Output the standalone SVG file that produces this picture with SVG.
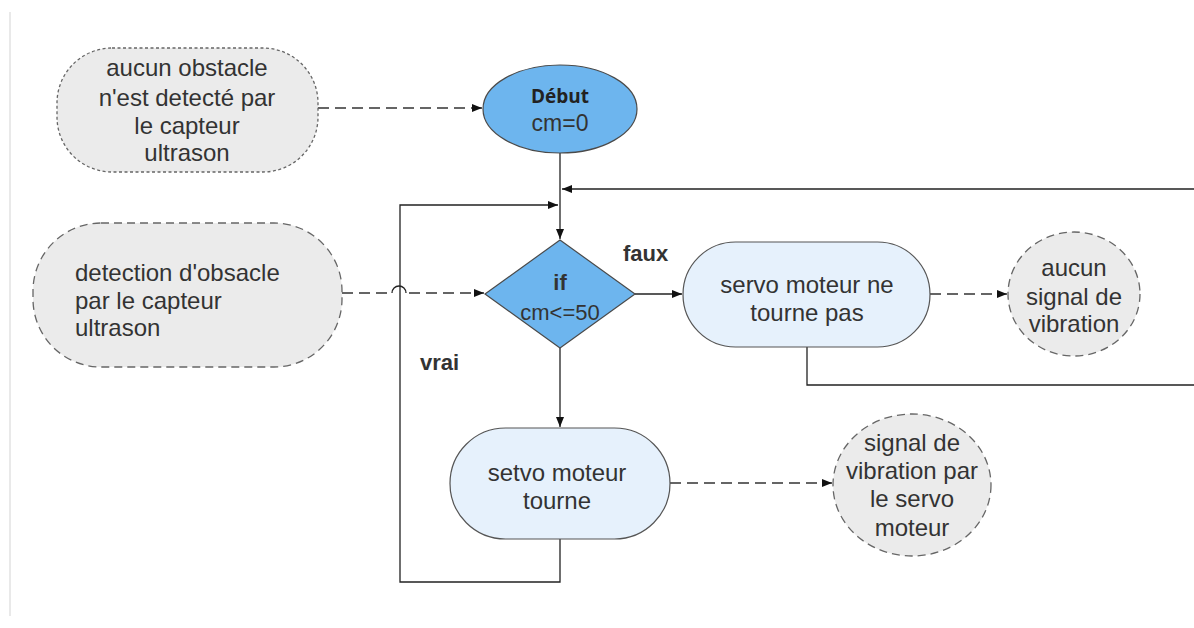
<svg xmlns="http://www.w3.org/2000/svg" width="1194" height="628" viewBox="0 0 1194 628">
  <style>
    .t { font-family: "Liberation Sans", Arial, sans-serif; font-size: 24px; fill: #333; }
    .c { text-anchor: middle; }
    .b { font-weight: bold; }
    .start { fill: #6db5ee; stroke: #4a4a4a; stroke-width: 1.2; }
    .proc { fill: #e6f1fc; stroke: #555; stroke-width: 1.2; }
    .note { fill: #ebebeb; stroke: #666; stroke-width: 1.3; stroke-dasharray: 8 5; }
    .note.dot { stroke-dasharray: 3 2.5; }
    .flow { fill: none; stroke: #222; stroke-width: 1.3; }
    .dash { fill: none; stroke: #333; stroke-width: 1.4; stroke-dasharray: 11 6; }
  </style>
  <defs>
    <marker id="arr" viewBox="0 0 10 10" refX="10" refY="5" markerWidth="10" markerHeight="10" markerUnits="userSpaceOnUse" orient="auto">
      <path d="M0,1 L10,5 L0,9 z" fill="#111"/>
    </marker>
  </defs>

  <rect width="1194" height="628" fill="#fff"/>
  <line x1="10" y1="12" x2="10" y2="616" stroke="#e2e2e2" stroke-width="1.5"/>

  <g id="connectors">
    <path class="dash" d="M318,108 H482" marker-end="url(#arr)"/>
    <path class="flow" d="M560,153 V239" marker-end="url(#arr)"/>
    <path class="flow" d="M807,347 V385 H1200 V189 H562" marker-end="url(#arr)"/>
    <path class="flow" d="M560,539 V582 H400 V205 H558" marker-end="url(#arr)"/>
    <path class="dash" d="M342,293 H392"/>
    <path class="flow" d="M392,293 A7,7 0 0 1 406,293" stroke="#333"/>
    <path class="dash" d="M409,293 H484" marker-end="url(#arr)"/>
    <path class="flow" d="M635,294 H682" marker-end="url(#arr)"/>
    <path class="dash" d="M930,294 H1007" marker-end="url(#arr)"/>
    <path class="flow" d="M560,348 V427" marker-end="url(#arr)"/>
    <path class="dash" d="M670,483 H832" marker-end="url(#arr)"/>
  </g>

  <g id="note-no-obstacle">
    <rect class="note dot" x="57" y="48" width="261" height="124" rx="55" ry="55"/>
    <text class="t c" x="187" y="76">aucun obstacle</text>
    <text class="t c" x="187" y="106">n'est detecté par</text>
    <text class="t c" x="187" y="134">le capteur</text>
    <text class="t c" x="187" y="161">ultrason</text>
  </g>

  <g id="start">
    <ellipse class="start" cx="560" cy="109" rx="77" ry="44"/>
    <text class="c b" x="560" y="103" style="font-family:'Open Sans','DejaVu Sans',sans-serif;font-size:19px;fill:#222">Début</text>
    <text class="t c" x="560" y="131" style="font-size:23px">cm=0</text>
  </g>

  <g id="note-detection">
    <rect class="note" x="33" y="223" width="309" height="144" rx="68" ry="68"/>
    <text class="t" x="75" y="281">detection d'obsacle</text>
    <text class="t" x="75" y="309">par le capteur</text>
    <text class="t" x="75" y="336">ultrason</text>
  </g>

  <g id="decision">
    <polygon class="start" points="560,240 635,294 560,348 485,294"/>
    <text class="t c b" x="560" y="290" style="font-size:22px">if</text>
    <text class="t c" x="560" y="320" style="font-size:22px">cm&lt;=50</text>
  </g>

  <g id="label-faux">
    <text class="t b" x="623" y="261" style="font-size:22px">faux</text>
  </g>
  <g id="label-vrai">
    <text class="t b" x="420" y="370" style="font-size:22px">vrai</text>
  </g>

  <g id="servo-off">
    <rect class="proc" x="683" y="242" width="247" height="105" rx="52.5" ry="52.5"/>
    <text class="t c" x="807" y="293">servo moteur ne</text>
    <text class="t c" x="807" y="321">tourne pas</text>
  </g>

  <g id="note-no-vibration">
    <ellipse class="note" cx="1074" cy="294" rx="66" ry="62"/>
    <text class="t c" x="1074" y="276">aucun</text>
    <text class="t c" x="1074" y="305">signal de</text>
    <text class="t c" x="1074" y="332">vibration</text>
  </g>

  <g id="servo-on">
    <rect class="proc" x="450" y="428" width="220" height="111" rx="55.5" ry="55.5"/>
    <text class="t c" x="557" y="481">setvo moteur</text>
    <text class="t c" x="557" y="509">tourne</text>
  </g>

  <g id="note-vibration">
    <ellipse class="note" cx="912" cy="485" rx="79" ry="71"/>
    <text class="t c" x="912" y="451">signal de</text>
    <text class="t c" x="912" y="479">vibration par</text>
    <text class="t c" x="912" y="507">le servo</text>
    <text class="t c" x="912" y="536">moteur</text>
  </g>
</svg>
